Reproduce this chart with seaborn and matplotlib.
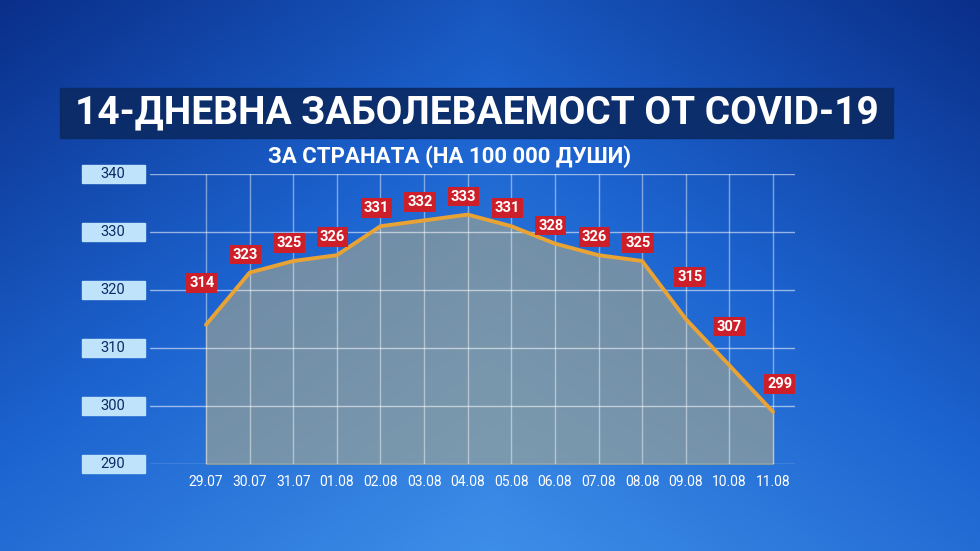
import numpy as np
import pandas as pd
import matplotlib
matplotlib.use('Agg')
import matplotlib.pyplot as plt
import seaborn as sns

dates = ["29.07", "30.07", "31.07", "01.08", "02.08", "03.08", "04.08",
         "05.08", "06.08", "07.08", "08.08", "09.08", "10.08", "11.08"]
values = [314, 323, 325, 326, 331, 332, 333, 331, 328, 326, 325, 315, 307, 299]
y_ticks = [290, 300, 310, 320, 330, 340]

title = "14-ДНЕВНА ЗАБОЛЕВАЕМОСТ ОТ COVID-19"
subtitle = "ЗА СТРАНАТА (НА 100 000 ДУШИ)"

# label offsets in points (dx, dy)
offsets = [(-3, 30), (-3, 13), (-3, 13), (-3, 13), (-3, 13), (-3, 13), (-3, 13),
           (-3, 13), (-3, 13), (-3, 13), (-3, 13), (3, 30), (0, 28), (5, 20)]

df = pd.DataFrame({"idx": range(len(dates)), "value": values})

sns.set_theme(style="white")
plt.rcParams['font.family'] = ['Roboto', 'DejaVu Sans']

fig = plt.figure(figsize=(9.8, 5.51), dpi=100)
W, H = 980, 551

# background gradient
bg = fig.add_axes([0, 0, 1, 1])
yy, xx = np.mgrid[0:1:200j, 0:1:300j]
g = 0.55 * yy + 0.35 * (1 - np.abs(xx - 0.5) * 2)
cmap = matplotlib.colors.LinearSegmentedColormap.from_list("b", ["#0a2f8a", "#1c63cf", "#3d8ee8"])
bg.imshow(g, cmap=cmap, aspect='auto', extent=[0, 1, 0, 1], origin='upper')
bg.axis('off')

# title banner
bg.add_patch(plt.Rectangle((60 / W, 1 - 138 / H), 833 / W, 50 / H, color="#0b2a63", alpha=0.9))
bg.text(477 / W, 1 - 113 / H, title, color="white", fontsize=28, fontweight="bold",
        ha="center", va="center")
bg.text(450 / W, 1 - 157 / H, subtitle, color="white", fontsize=16, fontweight="bold",
        ha="center", va="center")

# y tick boxes
for yv in y_ticks:
    py = 174 + (340 - yv) / 50 * 290
    bg.add_patch(plt.Rectangle((82 / W, 1 - (py + 9) / H), 63 / W, 18 / H, color="#bfe3fb"))
    bg.text(113 / W, 1 - py / H, str(yv), ha="center", va="center",
            color="#0b2a63", fontsize=10.5)
bg.set_xlim(0, 1)
bg.set_ylim(0, 1)

# chart axes: px 150..795 horizontally, 174..464 vertically
step = (773 - 206) / 13
x0 = -(206 - 150) / step
x1 = 13 + (795 - 773) / step
ax = fig.add_axes([150 / W, 1 - 464 / H, (795 - 150) / W, (464 - 174) / H])
ax.patch.set_alpha(0)
ax.set_xlim(x0, x1)
ax.set_ylim(290, 340)

ax.fill_between(df["idx"], df["value"], 290, color="#a9a88c", alpha=0.6, zorder=1)
sns.lineplot(data=df, x="idx", y="value", color="#e9a234", linewidth=2.8, ax=ax, zorder=3)

for yv in y_ticks:
    ax.axhline(yv, color="white", alpha=0.55, linewidth=1, zorder=2)
for i in df["idx"]:
    ax.axvline(i, color="white", alpha=0.45, linewidth=1, zorder=2)

for i, v in enumerate(values):
    ax.annotate(str(v), (i, v), xytext=offsets[i], textcoords="offset points",
                ha="center", va="center", color="white", fontsize=10.5, fontweight="bold",
                bbox=dict(boxstyle="square,pad=0.2", fc="#cc1f2a", ec="none"), zorder=5)

ax.set_xticks(df["idx"])
ax.set_xticklabels(dates, color="white", fontsize=10)
ax.set_yticks([])
ax.tick_params(axis="x", length=0, pad=8)
ax.set_xlabel("")
ax.set_ylabel("")
sns.despine(ax=ax, left=True, bottom=True)

fig.savefig("out.png", dpi=100)
